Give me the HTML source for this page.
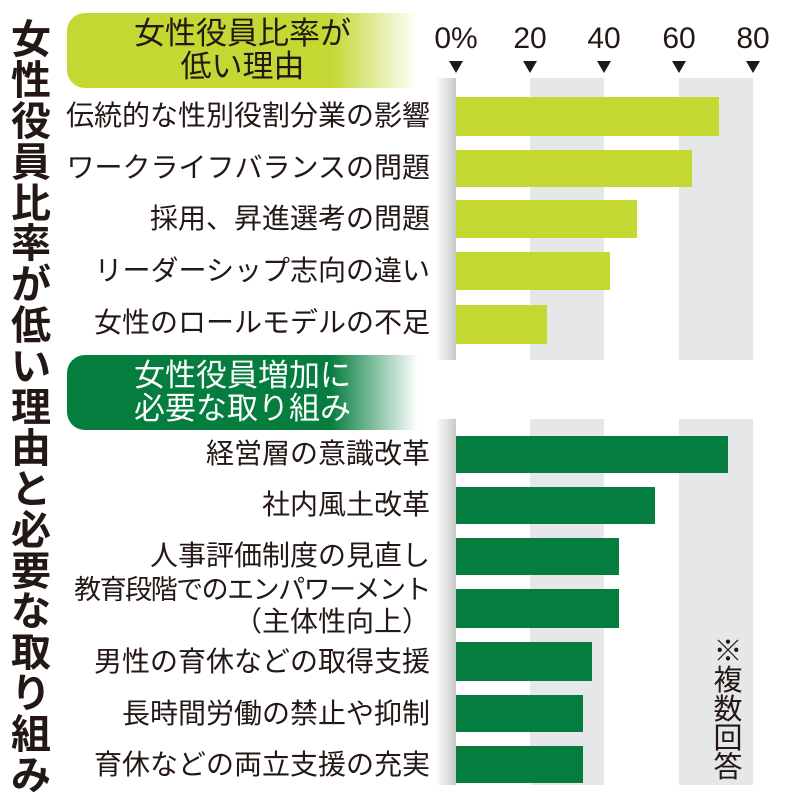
<!DOCTYPE html>
<html><head><meta charset="utf-8"><style>
body{margin:0;width:800px;height:800px;background:#fff;position:relative;overflow:hidden;font-family:"Liberation Sans","Noto Sans CJK JP",sans-serif;color:#231815}
.a{position:absolute}
.vt{left:6px;top:20px;width:50px;font-size:40px;font-weight:bold;text-align:center}
.vt div{height:40.9px;line-height:40.9px}
.hd{border-radius:18px 0 0 18px;font-size:31px;line-height:33px;text-align:center;padding-top:4px;box-sizing:border-box}
.lb{right:370px;font-size:28px;white-space:nowrap;text-align:right;line-height:32px}
.tk{font-size:30px;width:70px;text-align:center;top:22px}
.tri{width:0;height:0;border-left:7px solid transparent;border-right:7px solid transparent;border-top:12px solid #231815;top:61px}
.g{background:#e6e7e8}
.strip{background:linear-gradient(90deg,#fff,#c9cacb);width:21px;left:435px}
.b1{background:#c3d832;left:456px}
.b2{background:#047d3e;left:456px}
</style></head><body>
<div class="a vt"><div>女</div><div>性</div><div>役</div><div>員</div><div>比</div><div>率</div><div>が</div><div>低</div><div>い</div><div>理</div><div>由</div><div>と</div><div>必</div><div>要</div><div>な</div><div>取</div><div>り</div><div>組</div><div>み</div></div>
<div class="a hd" style="left:67px;top:13px;width:351px;height:75px;background:linear-gradient(90deg,#c3d832 75%,#fff)">女性役員比率が<br>低い理由</div>
<div class="a hd" style="left:67px;top:355px;width:351px;height:75px;background:linear-gradient(90deg,#047d3e 75%,#fff);color:#fff">女性役員増加に<br>必要な取り組み</div>

<div class="a tk" style="left:421px">0%</div>
<div class="a tk" style="left:495px">20</div>
<div class="a tk" style="left:569px">40</div>
<div class="a tk" style="left:644px">60</div>
<div class="a tk" style="left:718px">80</div>
<div class="a tri" style="left:449px"></div>
<div class="a tri" style="left:523px"></div>
<div class="a tri" style="left:597px"></div>
<div class="a tri" style="left:672px"></div>
<div class="a tri" style="left:746px"></div>

<div class="a g" style="left:530px;width:74px;top:78px;height:282px"></div>
<div class="a g" style="left:679px;width:74px;top:78px;height:282px"></div>
<div class="a strip" style="top:78px;height:282px"></div>
<div class="a g" style="left:530px;width:74px;top:419px;height:366px"></div>
<div class="a g" style="left:679px;width:74px;top:419px;height:366px"></div>
<div class="a strip" style="top:419px;height:366px"></div>

<div class="a b1" style="top:97px;height:39px;width:263px"></div>
<div class="a b1" style="top:150px;height:37px;width:236px"></div>
<div class="a b1" style="top:200px;height:38px;width:181px"></div>
<div class="a b1" style="top:252px;height:38px;width:154px"></div>
<div class="a b1" style="top:305px;height:39px;width:91px"></div>

<div class="a b2" style="top:436px;height:37px;width:272px"></div>
<div class="a b2" style="top:487px;height:37px;width:199px"></div>
<div class="a b2" style="top:538px;height:37px;width:163px"></div>
<div class="a b2" style="top:589px;height:39px;width:163px"></div>
<div class="a b2" style="top:642px;height:39px;width:136px"></div>
<div class="a b2" style="top:695px;height:37px;width:127px"></div>
<div class="a b2" style="top:746px;height:37px;width:127px"></div>

<div class="a lb" style="top:100px">伝統的な性別役割分業の影響</div>
<div class="a lb" style="top:152px">ワークライフバランスの問題</div>
<div class="a lb" style="top:203px">採用、昇進選考の問題</div>
<div class="a lb" style="top:255px">リーダーシップ志向の違い</div>
<div class="a lb" style="top:307px">女性のロールモデルの不足</div>
<div class="a lb" style="top:438px">経営層の意識改革</div>
<div class="a lb" style="top:489px">社内風土改革</div>
<div class="a lb" style="top:540px">人事評価制度の見直し</div>
<div class="a lb" style="top:574px;font-size:27px;letter-spacing:-1.5px">教育段階でのエンパワーメント</div>
<div class="a lb" style="top:606px">（主体性向上）</div>
<div class="a lb" style="top:646px">男性の育休などの取得支援</div>
<div class="a lb" style="top:698px">長時間労働の禁止や抑制</div>
<div class="a lb" style="top:749px">育休などの両立支援の充実</div>
<div class="a" style="left:712px;top:638px;width:32px;font-size:29px;line-height:29px;text-align:center">※複数回答</div>
</body></html>
